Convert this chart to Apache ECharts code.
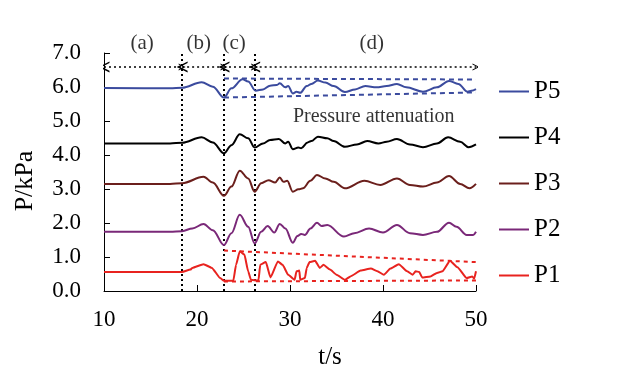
<!DOCTYPE html>
<html><head><meta charset="utf-8">
<script src="https://cdn.jsdelivr.net/npm/echarts@6/dist/echarts.min.js"></script>
<style>html,body{margin:0;padding:0;background:#fff}#c{width:625px;height:380px}</style>
</head><body><div id="c"></div>
<script>
// ---- data (t in s, P in kPa) ----
const p5Data = [[10,5.97],[17.1,5.96],[18.4,5.98],[20.5,6.14],[21.7,6.01],[22.9,5.69],[23.7,5.96],[24.9,6.23],[25.5,6.16],[26.3,5.89],[27.1,5.93],[27.85,6.04],[28.6,6.06],[28.9,6.11],[29.5,5.99],[29.8,6.03],[30.3,5.81],[30.7,5.86],[31.1,5.83],[31.8,6.03],[32.3,6.09],[33.0,6.19],[33.8,6.13],[34.7,6.03],[35.9,5.85],[37.0,5.93],[38.1,6.03],[39.3,5.99],[40.4,6.03],[41.5,6.09],[42.5,5.99],[44.3,5.86],[45.8,5.99],[47.1,6.18],[48.1,6.09],[49.1,5.86],[49.5,5.89],[50,5.94]];
const p4Data = [[10,4.34],[17.1,4.34],[18.4,4.36],[20.5,4.52],[21.7,4.37],[22.9,4.05],[23.7,4.29],[24.6,4.61],[25.5,4.49],[26.2,4.22],[27.1,4.34],[27.85,4.44],[28.8,4.47],[29.5,4.34],[29.8,4.39],[30.3,4.17],[30.9,4.22],[31.2,4.20],[31.9,4.37],[32.3,4.41],[33.0,4.54],[34.0,4.49],[34.7,4.41],[35.9,4.24],[37.2,4.31],[38.3,4.41],[39.5,4.34],[40.4,4.39],[41.5,4.47],[42.9,4.31],[44.3,4.23],[45.8,4.34],[47.0,4.52],[48.3,4.39],[49.2,4.23],[50,4.31]];
const p3Data = [[10,3.15],[17.1,3.15],[18.4,3.17],[20.7,3.36],[21.7,3.19],[22.9,2.80],[23.7,3.07],[24.6,3.54],[25.5,3.31],[26.2,2.92],[26.9,3.17],[27.7,3.26],[28.4,3.19],[28.9,3.34],[29.3,3.21],[29.7,3.24],[30.3,2.92],[30.9,2.99],[31.4,3.02],[32.2,3.24],[32.9,3.41],[33.8,3.31],[34.7,3.21],[35.9,3.02],[38.0,3.24],[39.7,3.12],[41.5,3.31],[42.9,3.12],[44.3,3.07],[45.8,3.19],[47.1,3.38],[48.3,3.15],[49.3,3.02],[50,3.15]];
const p2Data = [[10,1.74],[17.1,1.74],[18.4,1.76],[19.5,1.84],[20.7,1.97],[21.7,1.79],[22.9,1.35],[23.7,1.70],[24.6,2.24],[25.5,1.89],[26.2,1.40],[26.9,1.74],[27.6,1.91],[28.3,1.72],[28.9,1.97],[29.5,1.84],[30.3,1.42],[30.8,1.62],[31.2,1.68],[31.6,1.65],[32.2,1.84],[32.9,2.01],[33.4,1.91],[34.0,1.94],[35.8,1.60],[36.9,1.70],[38.5,1.84],[40.0,1.72],[41.5,1.94],[42.9,1.70],[44.3,1.65],[45.8,1.74],[47.1,2.01],[47.9,1.89],[49.0,1.65],[49.7,1.65],[50,1.74]];
const p1Data = [[10,0.56],[17.1,0.56],[18.4,0.56],[19.3,0.63],[19.5,0.68],[20.7,0.79],[21.6,0.68],[22.5,0.38],[22.9,0.30],[23.9,0.30],[24.2,0.77],[24.6,1.17],[25.1,1.07],[25.5,0.58],[25.8,0.33],[26.6,0.30],[26.8,0.77],[27.4,0.85],[27.9,0.40],[28.7,0.87],[29.2,0.77],[29.8,0.48],[30.5,0.33],[30.7,0.58],[31.0,0.60],[31.1,0.33],[31.6,0.38],[31.8,0.68],[32.1,0.85],[32.7,0.89],[33.2,0.68],[33.6,0.77],[34.3,0.63],[35.0,0.48],[35.9,0.33],[36.5,0.43],[37.6,0.60],[38.7,0.66],[39.4,0.58],[40.1,0.48],[40.8,0.66],[41.7,0.79],[42.6,0.58],[43.2,0.48],[43.5,0.58],[43.9,0.56],[44.2,0.40],[45.1,0.43],[45.8,0.53],[46.4,0.58],[47.2,0.89],[48.0,0.70],[49.0,0.38],[49.6,0.43],[49.8,0.36],[50,0.58]];

const seriesNames = ['P1','P2','P3','P4','P5'];
const legendOrder = ['P5','P4','P3','P2','P1'];
const xTicks = [10, 20, 30, 40, 50];
const yTicks = [0, 1, 2, 3, 4, 5, 6, 7];

// stage boundaries and labels
const stageBounds = [10, 18.4, 22.9, 26.2, 50];
const stageArrowP = 6.59;
const stageLabels = ['(a)', '(b)', '(c)', '(d)'];
const stageLabelT = [14.1, 20.2, 24.0, 38.8];
const stageLabelP = 7.29;
const noteText = 'Pressure attenuation';
const noteT = 39.0, noteP = 5.12;
// attenuation envelopes [t, p]
const blueEnvTop = [[22.9, 6.25], [50, 6.22]];
const blueEnvBottom = [[22.9, 5.69], [50, 5.84]];
const redEnvTop = [[22.9, 1.19], [50, 0.85]];
const redEnvBottom = [[22.9, 0.28], [50, 0.31]];

const colors = {P1:'#e8231f', P2:'#7a2878', P3:'#6b1f1c', P4:'#000000', P5:'#3b4b9e'};
const FONT = 'Liberation Serif';
const dataMap = {P1:p1Data, P2:p2Data, P3:p3Data, P4:p4Data, P5:p5Data};

const chevron = 'path://M0,10 L10,0 L20,10 L17,10 L10,3 L3,10 Z';

const series = seriesNames.map(n => ({
  name: n, type: 'line', data: dataMap[n], symbol: 'none',
  smooth: n === 'P1' ? 0.15 : 0.35, smoothMonotone: 'x',
  lineStyle: {color: colors[n], width: 2}, itemStyle: {color: colors[n]},
  z: 3
}));

// vertical dotted boundary lines
series.push({
  type: 'lines', coordinateSystem: 'cartesian2d', silent: true, z: 2,
  lineStyle: {color: '#000', width: 2, type: [2, 3], opacity: 1},
  data: stageBounds.slice(1, 4).map(t => ({coords: [[t, yTicks[0]], [t, yTicks[yTicks.length-1]]]}))
});
// stage arrows
series.push({
  type: 'lines', coordinateSystem: 'cartesian2d', silent: true, z: 2,
  symbol: [chevron, chevron], symbolSize: [11, 7],
  lineStyle: {color: '#000', width: 1.5, type: [2, 3], opacity: 1},
  data: stageBounds.slice(0, 4).map((t, i) => ({coords: [[t, stageArrowP], [stageBounds[i+1], stageArrowP]]}))
});
// envelopes
series.push({
  type: 'lines', coordinateSystem: 'cartesian2d', silent: true, z: 2,
  lineStyle: {color: colors.P5, width: 2, type: [5, 4], opacity: 1},
  data: [{coords: blueEnvTop}, {coords: blueEnvBottom}]
});
series.push({
  type: 'lines', coordinateSystem: 'cartesian2d', silent: true, z: 2,
  lineStyle: {color: colors.P1, width: 2, type: [4, 4], opacity: 1},
  data: [{coords: redEnvTop}, {coords: redEnvBottom}]
});
// text labels
series.push({
  type: 'scatter', silent: true, clip: false, symbolSize: 1,
  itemStyle: {color: 'rgba(0,0,0,0)'},
  label: {show: true, position: 'inside', formatter: p => p.data[2],
          fontFamily: FONT, fontSize: 21, color: '#000'},
  data: stageLabels.map((s, i) => [stageLabelT[i], stageLabelP, s])
});
series.push({
  type: 'scatter', silent: true, clip: false, symbolSize: 1,
  itemStyle: {color: 'rgba(0,0,0,0)'},
  label: {show: true, position: 'inside', formatter: p => p.data[2],
          fontFamily: FONT, fontSize: 20, color: '#000'},
  data: [[noteT, noteP, noteText]]
});

const chart = echarts.init(document.getElementById('c'));
chart.setOption({
  animation: false,
  backgroundColor: '#fff',
  grid: {left: 104, right: 149, top: 53, bottom: 89, containLabel: false},
  legend: {
    data: legendOrder, orient: 'vertical', left: 494, top: 74,
    icon: 'rect', itemWidth: 30, itemHeight: 2, itemGap: 21,
    textStyle: {fontFamily: FONT, fontSize: 25, color: '#000', lineHeight: 24}
  },
  xAxis: {
    type: 'value', min: xTicks[0], max: xTicks[xTicks.length-1], interval: 10,
    name: 't/s', nameLocation: 'middle', nameGap: 54,
    nameTextStyle: {fontFamily: FONT, fontSize: 25, color: '#000', padding: [0, 0, 0, 80]},
    axisLine: {show: true, lineStyle: {color: '#000', width: 1}},
    axisTick: {show: true, inside: true, length: 6, lineStyle: {color: '#000'}},
    axisLabel: {fontFamily: FONT, fontSize: 23, color: '#000', margin: 17},
    splitLine: {show: false}
  },
  yAxis: {
    type: 'value', min: yTicks[0], max: yTicks[yTicks.length-1], interval: 1,
    name: 'P/kPa', nameLocation: 'middle', nameGap: 66,
    nameTextStyle: {fontFamily: FONT, fontSize: 26, color: '#000', padding: [0, 18, 0, 0]},
    axisLine: {show: true, lineStyle: {color: '#000', width: 1}},
    axisTick: {show: true, inside: true, length: 6, lineStyle: {color: '#000'}},
    axisLabel: {fontFamily: FONT, fontSize: 23, color: '#000', margin: 23, formatter: v => v.toFixed(1)},
    splitLine: {show: false}
  },
  series: series
});
</script></body></html>
